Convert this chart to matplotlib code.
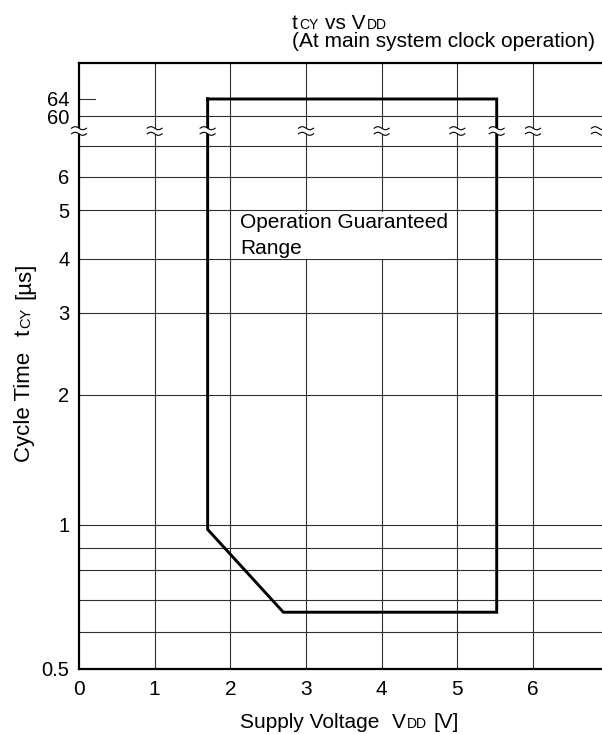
import numpy as np
import matplotlib
matplotlib.use("Agg")
import matplotlib.pyplot as plt
import matplotlib.transforms as mtransforms

plt.rcParams['font.family'] = ['Liberation Sans', 'DejaVu Sans']

# operation guaranteed range (supply voltage [V], cycle time [us])
region_vdd = [1.7, 5.52, 5.52, 2.7, 1.7, 1.7]
region_tcy = [64, 64, 0.66, 0.66, 0.98, 64]

x_ticks = [0, 1, 2, 3, 4, 5, 6]
y_ticks = [0.5, 1, 2, 3, 4, 5, 6, 60, 64]
y_tick_labels = ['0.5', '1', '2', '3', '4', '5', '6', '60', '64']
y_grid = [0.6, 0.7, 0.8, 0.9, 1, 2, 3, 4, 5, 6, 7, 60]
x_grid = [1, 2, 3, 4, 5, 6]
break_x = [0, 1, 1.7, 3, 4, 5, 5.52, 6, 6.87]

# the printed y axis is a hand drawn, broken log axis: value -> height
scale_vals = np.array([0.5, 0.6, 0.7, 0.8, 0.9, 1, 2, 3, 4, 5, 6, 7, 60, 64, 100])
scale_px = np.array([669, 632, 600, 570, 548, 525, 395, 313, 259, 210, 177, 146, 116, 99, 63])
lv = np.log10(scale_vals)
hv = -scale_px.astype(float)


def fwd(v):
    v = np.maximum(np.asarray(v, dtype=float), 1e-9)
    return np.interp(np.log10(v), lv, hv)


def inv(u):
    return 10 ** np.interp(np.asarray(u, dtype=float), hv, lv)


W, H = 602, 734
fig = plt.figure(figsize=(W / 100, H / 100), dpi=100)
ax = fig.add_axes([79 / W, (H - 669) / H, (602 - 79) / W, (669 - 63) / H])
ax.set_yscale('function', functions=(fwd, inv))
ax.set_xlim(0, (602 - 79) / 75.67)
ax.set_ylim(0.5, 100)

for v in y_grid:
    ax.axhline(v, color='#303030', lw=0.8, zorder=1)
for v in x_grid:
    ax.axvline(v, color='#303030', lw=0.8, zorder=1)

ax.plot(region_vdd, region_tcy, color='black', lw=2.1, zorder=3,
        solid_joinstyle='miter')

# short tick for 64
ax.plot([0, 0.03], [64, 64], color='#303030', lw=0.8,
        transform=ax.get_yaxis_transform(), zorder=2)

ax.set_xticks(x_ticks)
ax.set_xticklabels([str(v) for v in x_ticks])
ax.set_yticks(y_ticks)
ax.set_yticklabels(y_tick_labels)
ax.yaxis.set_minor_locator(matplotlib.ticker.NullLocator())
ax.tick_params(axis='both', length=0, labelsize=15)
ax.tick_params(axis='y', labelsize=14.5)
ax.tick_params(axis='x', pad=8)
ax.tick_params(axis='y', pad=7)

for s in ['left', 'bottom', 'top']:
    ax.spines[s].set_linewidth(1.6)
ax.spines['right'].set_visible(False)

# va='baseline' on a two line text anchors the last line
ax.text((240 - 79) / 523, (669 - 254) / 606, 'Operation Guaranteed\nRange',
        transform=ax.transAxes, fontsize=15, ha='left', va='baseline',
        linespacing=1.45, zorder=2,
        bbox=dict(facecolor='white', edgecolor='none', pad=1))

# axis break marks
ident = mtransforms.IdentityTransform()
blend = mtransforms.blended_transform_factory(ax.transData, ax.transAxes)
yb = (669 - 131) / 606
tt = np.linspace(-7.5, 7.5, 40)
wave = -1.5 * np.sin(np.pi * tt / 7.5)
for xb in break_x:
    bx, by = blend.transform((xb, yb))
    xs = bx + tt
    up = by + 2.8 + wave
    lo = by - 2.8 + wave
    ax.fill(np.r_[xs, xs[::-1]], np.r_[up, lo[::-1]], color='white',
            transform=ident, clip_on=False, zorder=5, lw=0)
    ax.plot(xs, up, color='black', lw=0.8, transform=ident, clip_on=False, zorder=6)
    ax.plot(xs, lo, color='black', lw=0.8, transform=ident, clip_on=False, zorder=6)

renderer = fig.canvas.get_renderer()
BIG, SMALL = 15, 10


def space(size):
    return size * 100 / 72 * 0.278


def rich(parts, x, y, rotation=0, center=False):
    # parts: list of (text, size) or (None, gap_px)
    arts = []
    total = 0
    for s, v in parts:
        if s is None:
            arts.append((None, v))
            total += v
            continue
        t = fig.text(0, 0, s, fontsize=v, ha='left', va='baseline',
                     rotation=rotation, rotation_mode='anchor')
        bb = t.get_window_extent(renderer)
        adv = (bb.width if rotation == 0 else bb.height) + 1
        arts.append((t, adv))
        total += adv
    pos = x if rotation == 0 else y
    if center:
        pos = pos - total / 2 if rotation == 0 else pos + total / 2
    for t, adv in arts:
        if t is not None:
            if rotation == 0:
                t.set_position((pos / W, 1 - y / H))
            else:
                t.set_position((x / W, 1 - pos / H))
        pos = pos + adv if rotation == 0 else pos - adv


rich([('t', BIG), ('CY', SMALL), (None, space(BIG)), ('vs V', BIG), ('DD', SMALL)],
     292, 29)
fig.text(292 / W, 1 - 47 / H, '(At main system clock operation)', fontsize=BIG,
         ha='left', va='baseline')
rich([('Supply Voltage', BIG), (None, 2 * space(BIG)), ('V', BIG), ('DD', SMALL),
      (None, space(BIG)), ('[V]', BIG)], 350, 728, center=True)
rich([('Cycle Time', 16), (None, 2.5 * space(16)), ('t', 16), ('CY', 10.5),
      (None, 1.3 * space(16)), ('[µs]', 16)], 30, 362, rotation=90, center=True)

fig.savefig('out.png', dpi=100)
